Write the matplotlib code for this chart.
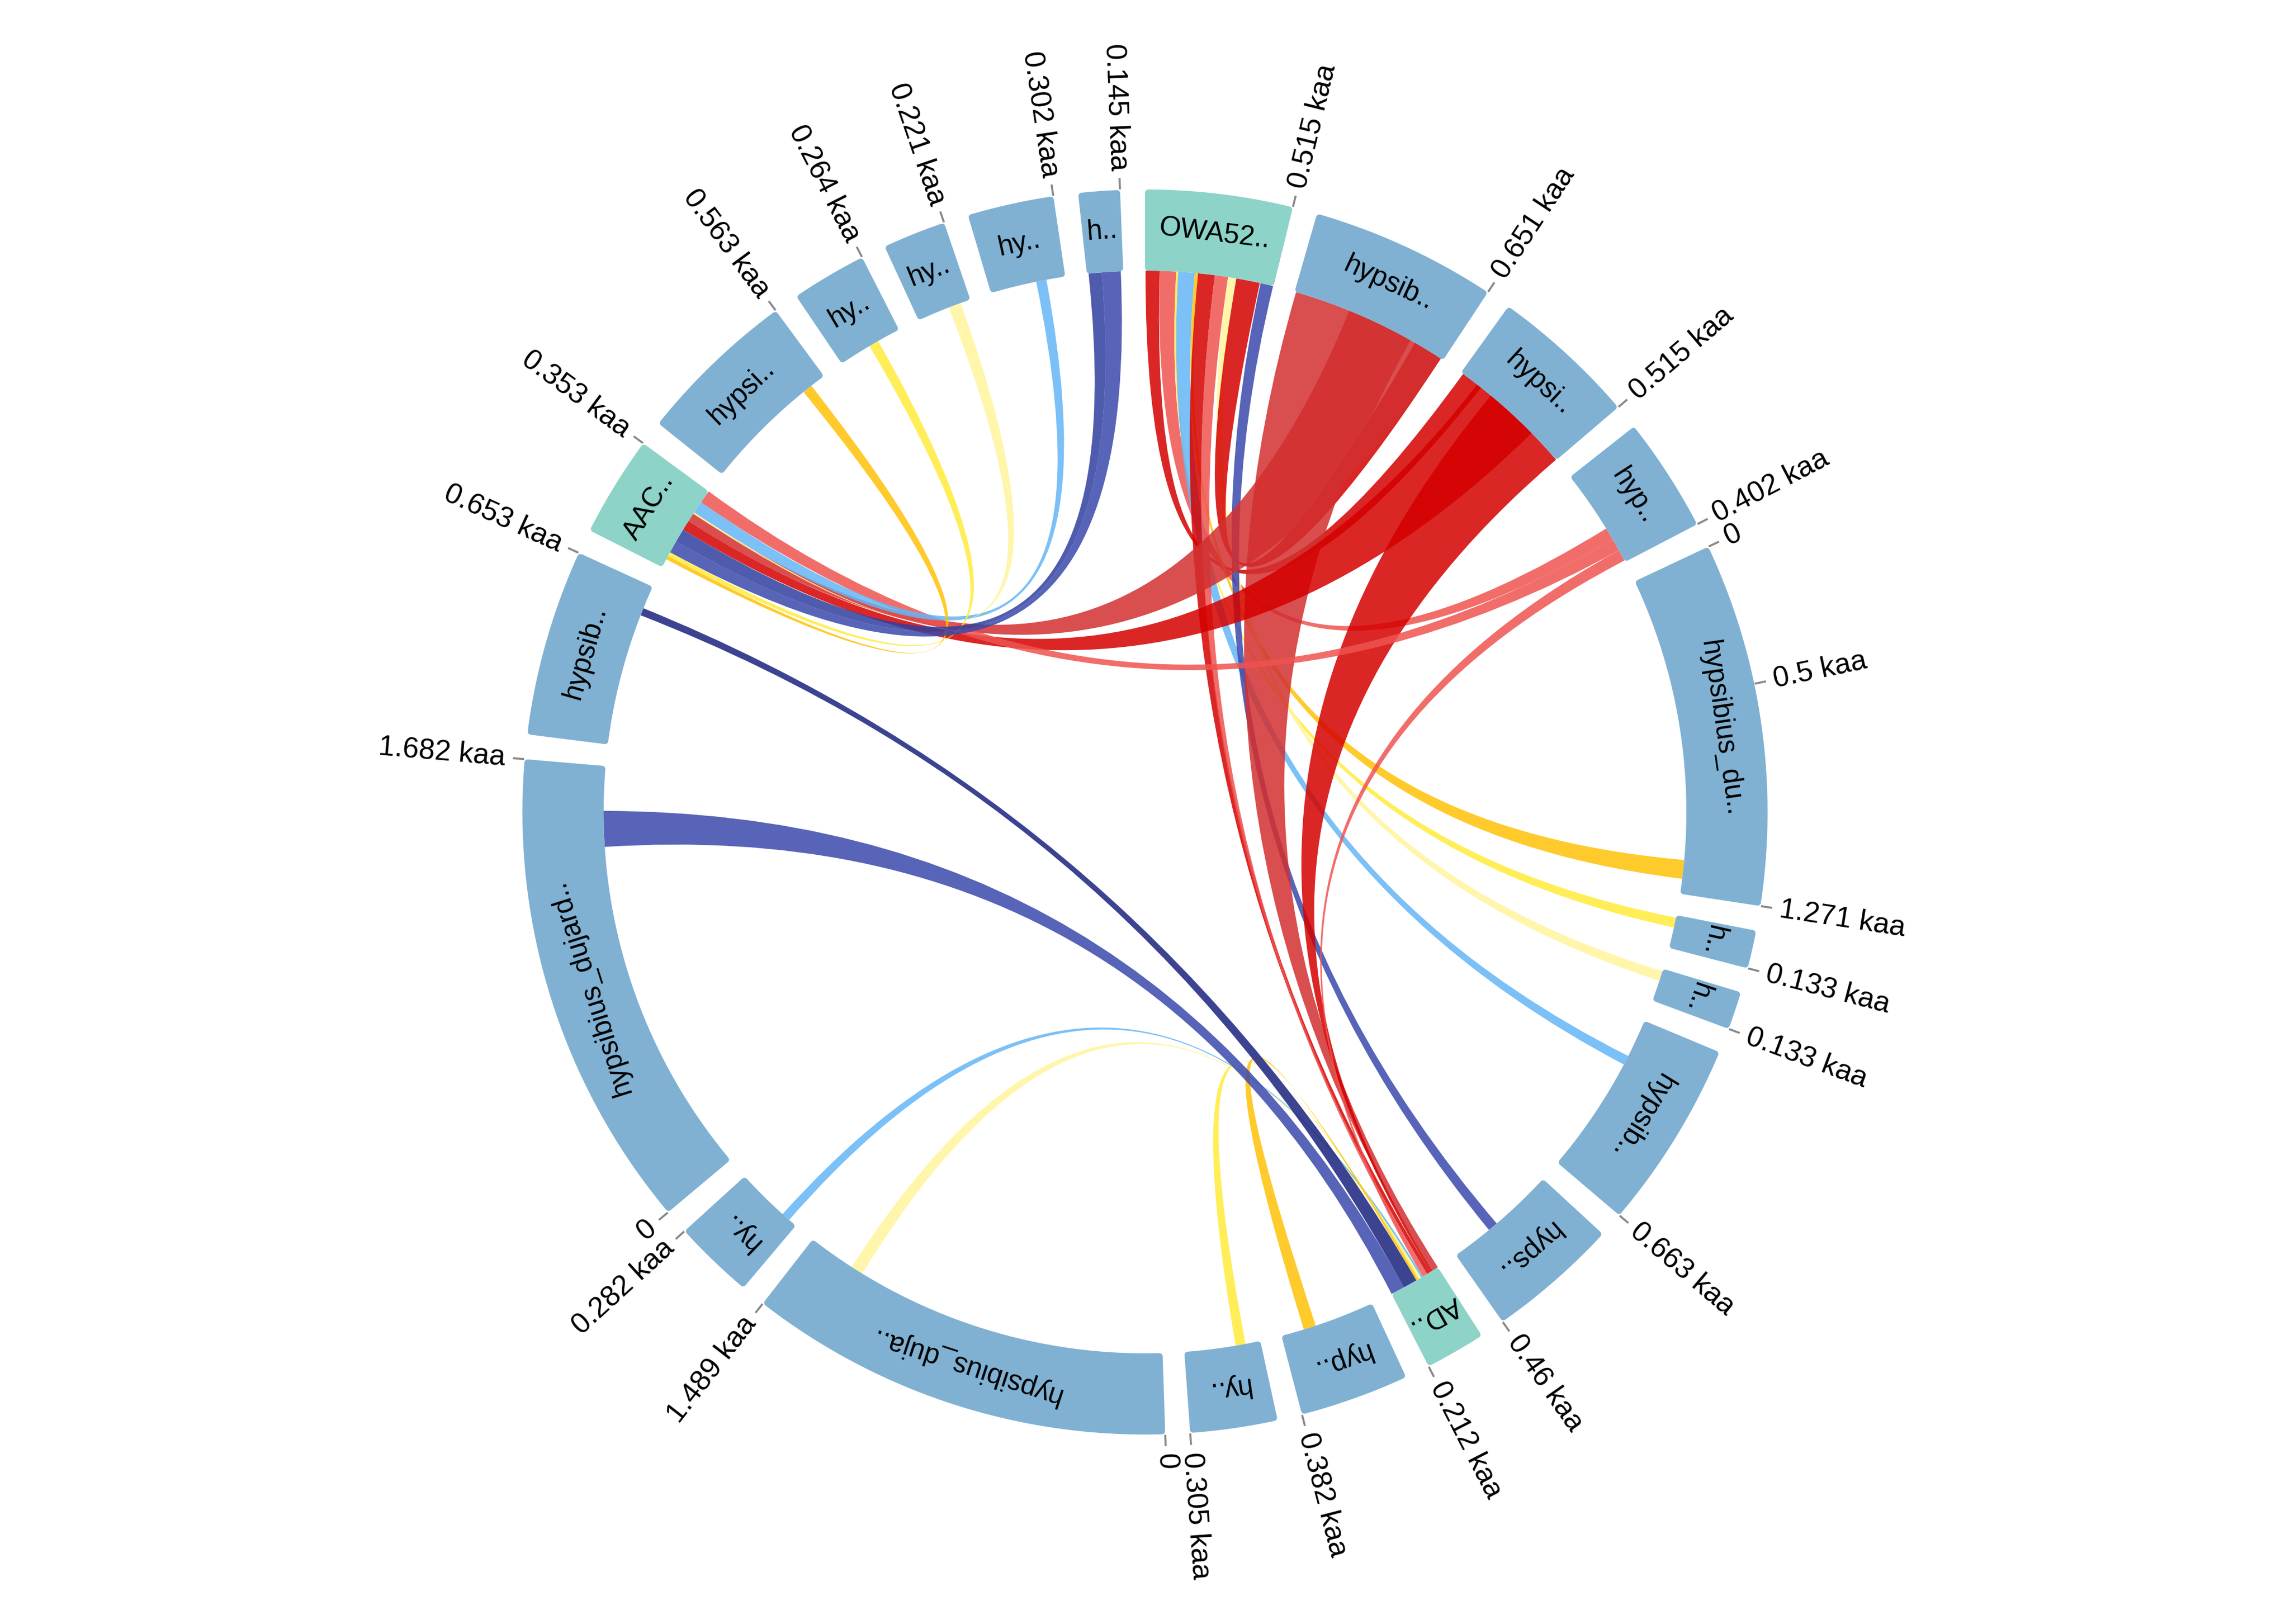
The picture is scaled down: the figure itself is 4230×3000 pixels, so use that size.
import numpy as np
import matplotlib.pyplot as plt
from matplotlib.path import Path
from matplotlib.patches import PathPatch, Polygon

plt.rcParams['font.family'] = ['Liberation Sans', 'DejaVu Sans']

# segments, clockwise from 12 o'clock
seg_ids = ['OWA52', 'hypsibA', 'hypsiA', 'hypA', 'du', 'hB', 'hC', 'hypsibD', 'hypsE', 'AD',
           'hypF', 'hyG', 'duja', 'hyH', 'dujard', 'hypsibI', 'AAC', 'hypsiJ', 'hyK', 'hyL',
           'hyM', 'hN']
seg_labels = ['OWA52..', 'hypsib..', 'hypsi..', 'hyp..', 'hypsibius_du..', 'h..', 'h..',
              'hypsib..', 'hyps..', 'AD..', 'hyp..', 'hy..', 'hypsibius_duja..', 'hy..',
              'hypsibius_dujard..', 'hypsib..', 'AAC..', 'hypsi..', 'hy..', 'hy..', 'hy..', 'h..']
seg_lengths = [0.515, 0.651, 0.515, 0.402, 1.271, 0.133, 0.133, 0.663, 0.46, 0.212,
               0.382, 0.305, 1.489, 0.282, 1.682, 0.653, 0.353, 0.563, 0.264, 0.221,
               0.302, 0.145]
query_segs = ['OWA52', 'AD', 'AAC']

# extra ticks besides the segment ends
extra_tick_seg = ['du', 'du', 'duja', 'dujard']
extra_tick_pos = [0.0, 0.5, 0.0, 0.0]

# links (positions in kaa from segment start)
link_src = ['OWA52', 'OWA52', 'OWA52', 'OWA52', 'OWA52', 'OWA52', 'OWA52', 'OWA52', 'OWA52',
            'OWA52', 'hypsibA', 'hypsibA', 'hypsiA', 'hypsiA', 'hypA', 'hypA', 'hyM', 'hyL',
            'hyK', 'hypsiJ', 'hN', 'hN', 'hyH', 'duja', 'hyG', 'hypF', 'hypsibI', 'dujard']
link_s0 = [0.002, 0.058, 0.124, 0.132, 0.198, 0.211, 0.278, 0.331, 0.364, 0.462,
           0.006, 0.23, 0.08, 0.15, 0.30, 0.35, 0.185, 0.13, 0.13, 0.46, 0.06, 0.007,
           0.035, 1.25, 0.06, 0.24, 0.53, 1.361]
link_s1 = [0.058, 0.124, 0.132, 0.198, 0.211, 0.278, 0.331, 0.364, 0.459, 0.513,
           0.50, 0.64, 0.37, 0.513, 0.35, 0.396, 0.226, 0.18, 0.17, 0.50, 0.135, 0.06,
           0.07, 1.30, 0.10, 0.29, 0.56, 1.504]
link_dst = ['hypsiA', 'hypA', 'hB', 'hypsibD', 'du', 'AD', 'AD', 'hC', 'hypsibA', 'hypsE',
            'AD', 'AAC', 'AAC', 'AD', 'AAC', 'AD', 'AAC', 'AAC', 'AAC', 'AAC', 'AAC', 'AAC',
            'AD', 'AD', 'AD', 'AD', 'AD', 'AD']
link_d0 = [0.01, 0.25, 0.01, 0.154, 1.136, 0.035, 0.05, 0.01, 0.52, 0.255,
           0.0, 0.21, 0.17, 0.025, 0.30, 0.06, 0.25, 0.245, 0.05, 0.035, 0.067, 0.116,
           0.07, 0.078, 0.086, 0.092, 0.10, 0.157]
link_d1 = [0.10, 0.30, 0.05, 0.192, 1.211, 0.05, 0.06, 0.05, 0.64, 0.295,
           0.025, 0.247, 0.21, 0.035, 0.353, 0.07, 0.30, 0.252, 0.067, 0.05, 0.116, 0.17,
           0.078, 0.086, 0.092, 0.10, 0.157, 0.212]
link_colors = ['#d50000', '#ef5350', '#ffeb3b', '#64b5f6', '#ffc107', '#d50000', '#ef5350',
               '#fff59d', '#d50000', '#3949ab', '#d32f2f', '#d32f2f', '#d50000', '#d50000',
               '#ef5350', '#ef5350', '#64b5f6', '#fff59d', '#ffeb3b', '#ffc107', '#3949ab',
               '#303f9f', '#64b5f6', '#fff59d', '#ffeb3b', '#ffc107', '#1a237e', '#3949ab']

R_IN, R_OUT = 1000, 1150
GAP = 2.3
k = (360 - GAP * len(seg_ids)) / sum(seg_lengths)
seg_start = []
cur = 0.0
for L in seg_lengths:
    seg_start.append(cur)
    cur += L * k + GAP
idx = {s: i for i, s in enumerate(seg_ids)}


def ang(seg, pos):
    return seg_start[idx[seg]] + pos * k


def xy(theta, r):
    t = np.radians(theta)
    return (r * np.sin(t), r * np.cos(t))


def arc(t0, t1, r, n=40):
    return [xy(t, r) for t in np.linspace(t0, t1, n)]


fig = plt.figure(figsize=(14.1, 10), dpi=300)
ax = fig.add_axes([0, 0, 1, 1])
ax.set_xlim(-2115, 2115)
ax.set_ylim(-1500, 1500)
ax.axis('off')

# ribbons
for src, s0, s1, dst, d0, d1, col in zip(link_src, link_s0, link_s1, link_dst,
                                         link_d0, link_d1, link_colors):
    a0, a1 = ang(src, s0), ang(src, s1)
    b0, b1 = ang(dst, d0), ang(dst, d1)
    verts = arc(a0, a1, R_IN)
    codes = [Path.MOVETO] + [Path.LINETO] * (len(verts) - 1)
    verts += [(0, 0), xy(b0, R_IN)]
    codes += [Path.CURVE3, Path.CURVE3]
    bv = arc(b0, b1, R_IN)[1:]
    verts += bv
    codes += [Path.LINETO] * len(bv)
    verts += [(0, 0), xy(a0, R_IN), (0, 0)]
    codes += [Path.CURVE3, Path.CURVE3, Path.CLOSEPOLY]
    ax.add_patch(PathPatch(Path(verts, codes), facecolor=col, edgecolor='none',
                           alpha=0.85, zorder=1))

# segments (rounded corners by a round-joined stroke)
c = 6
for i, (sid, L) in enumerate(zip(seg_ids, seg_lengths)):
    t0 = seg_start[i]
    t1 = t0 + L * k
    col = '#8dd3c7' if sid in query_segs else '#80b1d3'
    do = np.degrees(c / (R_OUT - c))
    di = np.degrees(c / (R_IN + c))
    pts = arc(t0 + do, t1 - do, R_OUT - c) + arc(t1 - di, t0 + di, R_IN + c)
    ax.add_patch(Polygon(pts, closed=True, facecolor=col, edgecolor=col,
                         lw=2 * c * 72 / 300, joinstyle='round', zorder=2))
    tm = (t0 + t1) / 2
    x, y = xy(tm, (R_IN + R_OUT) / 2)
    ax.text(x, y, seg_labels[i], rotation=-tm, rotation_mode='anchor', ha='center',
            va='center', fontsize=12.3, color='black', zorder=3)

# ticks
tick_seg = seg_ids + extra_tick_seg
tick_pos = seg_lengths + extra_tick_pos
for sid, p in zip(tick_seg, tick_pos):
    th = ang(sid, p)
    (x0, y0), (x1, y1) = xy(th, R_OUT + 1), xy(th, R_OUT + 22)
    ax.plot([x0, x1], [y0, y1], color='#888888', lw=0.9, solid_capstyle='butt', zorder=3)
    txt = '0' if p == 0 else f'{p:g} kaa'
    tx, ty = xy(th, R_OUT + 36)
    thn = th % 360
    if thn < 180:
        ax.text(tx, ty, txt, rotation=90 - thn, rotation_mode='anchor', ha='left',
                va='center', fontsize=12.8)
    else:
        ax.text(tx, ty, txt, rotation=270 - thn, rotation_mode='anchor', ha='right',
                va='center', fontsize=12.8)

fig.savefig('out.png', dpi=300)
